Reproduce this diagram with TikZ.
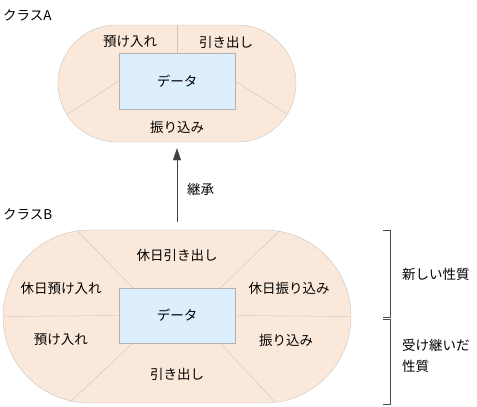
\documentclass[tikz,border=0pt]{standalone}
\usepackage{fontspec}
\setmainfont{Noto Sans CJK JP}
\usetikzlibrary{shapes.misc,arrows.meta}

\definecolor{peach}{HTML}{FAE8DA}
\definecolor{databg}{HTML}{DDEEFD}
\definecolor{rimgray}{HTML}{CCC4BC}

\begin{document}
\begin{tikzpicture}[x=1pt,y=-1pt,
    classbody/.style={draw=rimgray, fill=peach, rounded rectangle, inner sep=0pt},
    databox/.style={draw=gray!60, fill=databg, minimum width=116pt,
                    minimum height=56pt, inner sep=0pt, font=\fontsize{13.5}{15}\selectfont},
    divider/.style={draw=rimgray, thin},
    lbl/.style={font=\fontsize{13.5}{21}\selectfont, inner sep=0pt},
    brace/.style={draw=black!70, thin}
  ]
  \useasboundingbox (0,0) rectangle (477,407);

  % class A
  \node[lbl, anchor=west] (titleA) at (3,15) {クラスA};
  \node[classbody, minimum width=238pt, minimum height=117pt] (clsA) at (177,83.5) {};
  \node[databox] (dataA) at (177,81) {データ};
  \coordinate (aSW) at (67,114.5);
  \coordinate (aSE) at (287,114);
  \draw[divider] (dataA.north) -- (clsA.north);
  \draw[divider] (dataA.west) -- (aSW);
  \draw[divider] (dataA.east) -- (aSE);
  \node[lbl] (depA) at (130,42) {預け入れ};
  \node[lbl] (wdA) at (226,42) {引き出し};
  \node[lbl] (trA) at (177,127) {振り込み};

  % class B
  \node[lbl, anchor=west] (titleB) at (3,214) {クラスB};
  \node[classbody, minimum width=348pt, minimum height=173pt] (clsB) at (177,316.5) {};
  \node[databox, minimum height=55pt] (dataB) at (177,315.5) {データ};
  \coordinate (bNW) at (77,230.5);
  \coordinate (bNE) at (280,230.5);
  \coordinate (bSW) at (70,402);
  \coordinate (bSE) at (275,402);
  \draw[divider] (clsB.west) -- (dataB.west);
  \draw[divider] (dataB.east) -- (clsB.east);
  \draw[divider] (bNW) -- ([xshift=14pt]dataB.north west);
  \draw[divider] (bNE) -- ([xshift=-15pt]dataB.north east);
  \draw[divider] (bSW) -- ([xshift=14pt]dataB.south west);
  \draw[divider] (bSE) -- ([xshift=-15pt]dataB.south east);
  \node[lbl] (hwdB) at (177,255) {休日引き出し};
  \node[lbl] (hdepB) at (61,288) {休日預け入れ};
  \node[lbl] (htrB) at (289,288) {休日振り込み};
  \node[lbl] (depB) at (61,340) {預け入れ};
  \node[lbl] (trB) at (286,340) {振り込み};
  \node[lbl] (wdB) at (177,374) {引き出し};

  % inheritance
  \draw[draw=black!75, -{Triangle[length=12pt,width=8pt]}, shorten <=8pt, shorten >=6pt]
    (clsB.north) -- (clsA.south);
  \node[lbl, anchor=west] (inherit) at (187,189) {継承};

  % brackets
  \draw[brace] (383,230) -- (390,230) -- (390,317) -- (383,317);
  \draw[brace] (383,319) -- (390,319) -- (390,404) -- (383,404);
  \node[lbl, anchor=west] (newP) at (402,274) {新しい性質};
  \node[lbl, anchor=west, align=left] (oldP) at (402,356) {受け継いだ\\性質};
\end{tikzpicture}
\end{document}
